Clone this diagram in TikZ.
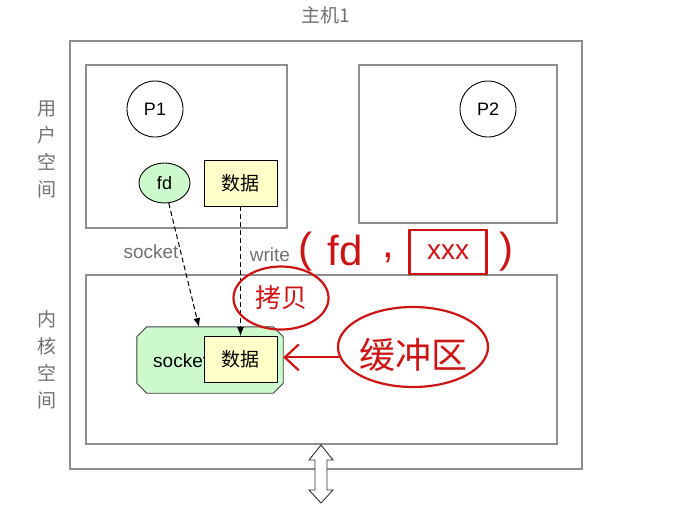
\documentclass[tikz,border=0pt]{standalone}
\usepackage{fontspec}
\setmainfont{Liberation Sans}
\newfontfamily\cjk{Noto Sans CJK SC}
\usetikzlibrary{shapes.geometric,arrows.meta}

\definecolor{regiongray}{HTML}{8E8E8E}
\definecolor{labelgray}{HTML}{707070}
\definecolor{mintfill}{HTML}{CCFACC}
\definecolor{creamfill}{HTML}{FFFFC8}
\definecolor{inkred}{HTML}{CC1414}

\tikzset{
    region/.style={draw=regiongray, line width=1.1pt},
    spacelbl/.style={text=labelgray, align=center, font=\cjk\fontsize{19}{27}\selectfont},
    proc/.style={circle, draw, line width=0.9pt, minimum size=56pt, inner sep=0pt, font=\fontsize{18}{18}\selectfont},
    databox/.style={draw, fill=creamfill, line width=0.9pt, minimum width=73pt, minimum height=46pt, inner sep=0pt, font=\cjk\fontsize{19}{19}\selectfont},
    callname/.style={text=labelgray, font=\fontsize{19}{19}\selectfont},
    link/.style={dash pattern=on 5pt off 3pt, line width=1pt, -{Latex[length=9pt,width=7pt]}},
    ink/.style={text=inkred, inner sep=0pt},
    inkring/.style={draw=inkred, line width=2.2pt, ellipse, inner sep=0pt},
}

\begin{document}
\begin{tikzpicture}[x=1pt, y=-1pt]
    \useasboundingbox (0,0) rectangle (700,504);

    % host and its spaces
    \node[text=labelgray, font=\cjk\fontsize{19}{19}\selectfont] (host) at (326,15) {主机1};
    \draw[region] (70,41) rectangle (582,469);
    \draw[region] (86,65) rectangle (287,228);
    \draw[region] (359,65) rectangle (557,223);
    \draw[region] (86,275) rectangle (557,444);
    \node[spacelbl] (userlbl) at (47,149) {用\\户\\空\\间};
    \node[spacelbl] (kernlbl) at (47,360) {内\\核\\空\\间};

    % user space
    \node[proc] (p1) at (155,109) {P1};
    \node[proc] (p2) at (488,109) {P2};
    \node[ellipse, draw, fill=mintfill, line width=0.9pt, minimum width=51pt, minimum height=40pt,
          inner sep=0pt, font=\fontsize{18}{18}\selectfont] (fd) at (164.5,183) {fd};
    \node[databox] (udata) at (240.5,183) {数据};

    % kernel space
    \node[minimum width=146pt, minimum height=66pt, inner sep=0pt] (sock) at (210,360) {};
    \filldraw[draw=black!75, fill=mintfill, line width=0.9pt]
        ([xshift=10pt]sock.north west) -- ([xshift=-10pt]sock.north east)
        -- ([yshift=-10pt]sock.north east) -- ([yshift=10pt]sock.south east)
        -- ([xshift=-10pt]sock.south east) -- ([xshift=10pt]sock.south west)
        -- ([yshift=10pt]sock.south west) -- ([yshift=-10pt]sock.north west) -- cycle;
    \node[anchor=west, inner sep=0pt, font=\fontsize{19}{19}\selectfont] (socktxt) at (153,361) {socket};
    \node[databox] (kdata) at (240.5,359.5) {数据};

    \node[callname] (sockcall) at (151,252) {socket};
    \node[callname] (writecall) at (270,255) {write};

    \coordinate (fdend) at (199,327);
    \draw[link] (fd.-78) -- (fdend);
    \draw[link] (udata.south) -- (kdata.north);

    % to the outside
    \filldraw[fill=white, draw=black!80, line width=0.9pt]
        (321,445) -- (333,460) -- (327,460) -- (327,490) -- (333,490) -- (321,503)
        -- (309,490) -- (315,490) -- (315,460) -- (309,460) -- cycle;

    % hand notes
    \node[ink, font=\fontsize{42}{42}\selectfont] (hwopen) at (305,252) {(};
    \node[ink, font=\fontsize{42}{42}\selectfont] (hwfd) at (345,250) {fd};
    \node[ink, font=\fontsize{42}{42}\selectfont] (hwcomma) at (388,258) {,};
    \node[ink, draw=inkred, line width=2.2pt, minimum width=77pt, minimum height=44pt,
          font=\fontsize{28}{28}\selectfont] (hwarg) at (448,252) {xxx};
    \node[ink, font=\fontsize{42}{42}\selectfont] (hwclose) at (506,252) {)};

    \node[inkring, minimum width=95pt, minimum height=63pt] (copy) at (281,298) {};
    \node[ink, font=\cjk\fontsize{26}{26}\selectfont] (copytxt) at (281,298) {拷贝};
    \node[inkring, minimum width=150pt, minimum height=80pt] (buf) at (413,347) {};
    \node[ink, font=\cjk\fontsize{36}{36}\selectfont] (buftxt) at (413,355) {缓冲区};
    \draw[inkred, line width=2.2pt, -{Straight Barb[length=14pt,width=26pt]}]
        (buf.188) -- (sock.east |- buf.188);
\end{tikzpicture}
\end{document}
